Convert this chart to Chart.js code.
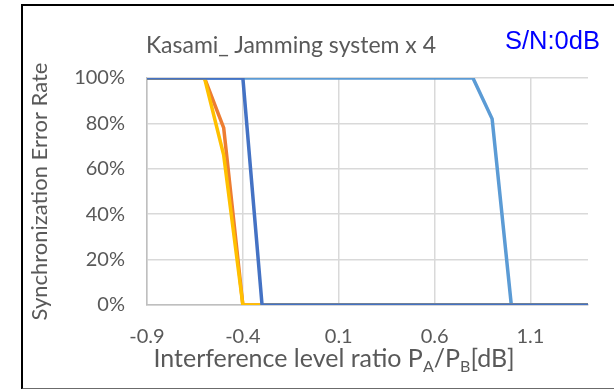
<!DOCTYPE html>
<html>
<head>
<meta charset="utf-8">
<script src="https://cdn.jsdelivr.net/npm/chart.js@4"></script>
<style>
  body { margin: 0; background: #fff; }
  #wrap { position: relative; width: 614px; height: 389px; overflow: hidden; }
  #frame { position: absolute; left: 21px; top: 4px; width: 600px; height: 382px;
           border-left: 2px solid #000; border-top: 2px solid #000; border-bottom: 2px solid #6b6b6b; }
  .txt { position: absolute; white-space: nowrap; font-family: Lato, sans-serif; color: #595959; }
  #title { left: 291px; top: 30px; transform: translateX(-50%); font-size: 23px; }
  #sn { left: 505px; top: 26px; font-family: "Liberation Sans", Arial, sans-serif; font-size: 25.5px; color: #0000ff; }
  #xtitle { left: 334px; top: 342px; transform: translateX(-50%); font-size: 25px; }
  #xtitle sub { font-size: 16px; vertical-align: -5px; line-height: 0; }
</style>
</head>
<body>
<div id="wrap">
  <canvas id="chart" width="614" height="389"></canvas>
  <div id="frame"></div>
  <div class="txt" id="title">Kasami_ Jamming system x 4</div>
  <div class="txt" id="sn">S/N:0dB</div>
  <div class="txt" id="xtitle">Interference level ratio P<sub>A</sub>/P<sub>B</sub>[dB]</div>
</div>
<script>
// interference level ratio (dB)
const xValues = [-0.9, -0.8, -0.7, -0.6, -0.5, -0.4, -0.3, -0.2, -0.1, 0.0, 0.1, 0.2,
                 0.3, 0.4, 0.5, 0.6, 0.7, 0.8, 0.9, 1.0, 1.1, 1.2, 1.3, 1.4];
// error rate (%)
const lightBlue = [100, 100, 100, 100, 100, 100, 100, 100, 100, 100, 100, 100,
                   100, 100, 100, 100, 100, 100, 82, 0, 0, 0, 0, 0];
const orange    = [100, 100, 100, 100, 78, 0, 0, 0, 0, 0, 0, 0,
                   0, 0, 0, 0, 0, 0, 0, 0, 0, 0, 0, 0];
const yellow    = [100, 100, 100, 100, 66, 0, 0, 0, 0, 0, 0, 0,
                   0, 0, 0, 0, 0, 0, 0, 0, 0, 0, 0, 0];
const darkBlue  = [100, 100, 100, 100, 100, 100, 0, 0, 0, 0, 0, 0,
                   0, 0, 0, 0, 0, 0, 0, 0, 0, 0, 0, 0];
const xTicks = [-0.9, -0.4, 0.1, 0.6, 1.1];

const gray = '#595959';
const gridColor = '#d9d9d9';

function pts(ys) {
    return xValues.map((x, i) => ({ x: x, y: ys[i] }));
}

function series(label, ys, color) {
    return {
        label: label,
        data: pts(ys),
        borderColor: color,
        backgroundColor: color,
        borderWidth: 3.5,
        pointRadius: 0,
        tension: 0,
        fill: false
    };
}

new Chart(document.getElementById('chart'), {
    type: 'line',
    data: {
        datasets: [
            series('Series 4', darkBlue, '#4472c4'),
            series('Series 3', yellow, '#ffc000'),
            series('Series 2', orange, '#ed7d31'),
            series('Series 1', lightBlue, '#5b9bd5')
        ]
    },
    options: {
        responsive: false,
        animation: false,
        layout: { padding: { left: 24, right: 26, top: 78, bottom: 0 } },
        plugins: { legend: { display: false }, tooltip: { enabled: false } },
        scales: {
            x: {
                type: 'linear',
                min: -0.9,
                max: 1.4,
                afterBuildTicks: s => { s.ticks = xTicks.map(v => ({ value: v })); },
                afterFit: s => { s.height = 84; },
                grid: { color: gridColor, lineWidth: 1.5, drawTicks: false },
                border: { color: '#bfbfbf', width: 1.5 },
                ticks: {
                    color: gray,
                    padding: 20,
                    font: { family: 'Lato', size: 20 },
                    callback: v => v.toFixed(1)
                }
            },
            y: {
                min: 0,
                max: 100,
                afterFit: s => { s.width = 123; },
                grid: { color: gridColor, lineWidth: 1.5, drawTicks: false },
                border: { color: '#bfbfbf', width: 1.5 },
                ticks: {
                    stepSize: 20,
                    color: gray,
                    padding: 22,
                    font: { family: 'Lato', size: 20 },
                    callback: v => v + '%'
                },
                title: {
                    display: true,
                    text: 'Synchronization Error Rate',
                    color: gray,
                    font: { family: 'Lato', size: 22, weight: 'normal' },
                    padding: { top: 3, bottom: 0 }
                }
            }
        }
    }
});
</script>
</body>
</html>
